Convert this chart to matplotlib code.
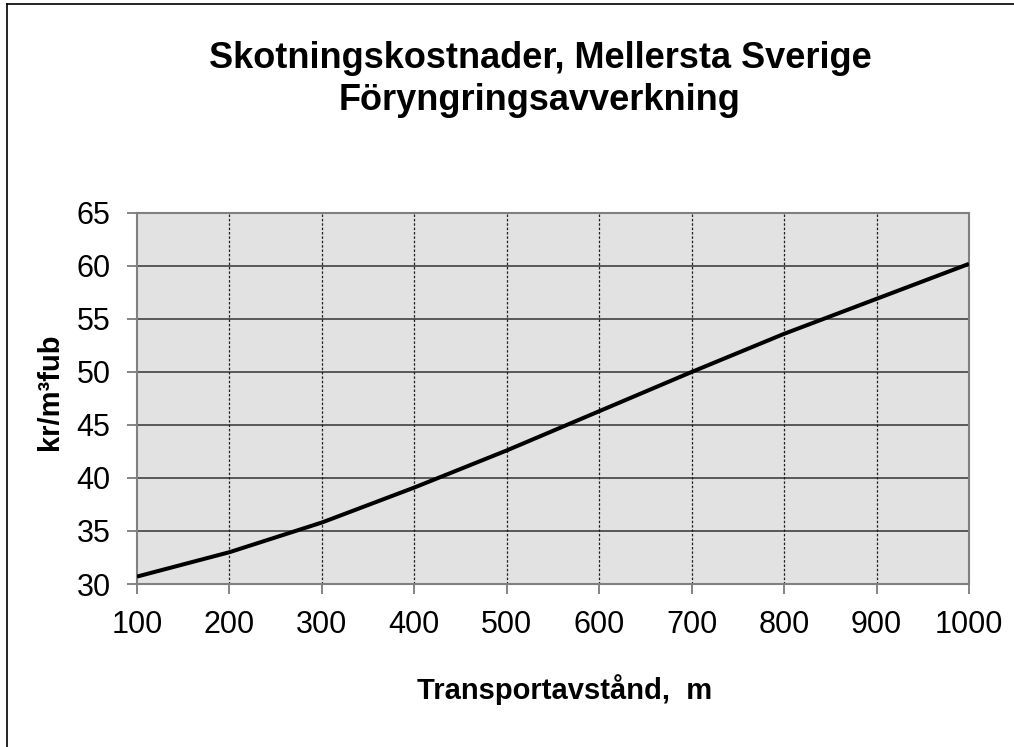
import matplotlib
matplotlib.use("Agg")
import matplotlib.pyplot as plt
from matplotlib.lines import Line2D

plt.rcParams['font.family'] = ['Liberation Sans', 'DejaVu Sans']

# data
distance = [100, 200, 300, 400, 500, 600, 700, 800, 900, 1000]
cost = [30.7, 33.0, 35.8, 39.1, 42.6, 46.3, 50.0, 53.6, 56.9, 60.2]
y_ticks = [30, 35, 40, 45, 50, 55, 60, 65]

title_1 = "Skotningskostnader, Mellersta Sverige"
title_2 = "Föryngringsavverkning"
x_label = "Transportavstånd,  m"
y_label = "kr/m³fub"

fig = plt.figure(figsize=(10.14, 7.47), dpi=100)
ax = fig.add_axes([0.1351, 0.2182, 0.9556 - 0.1351, 0.7149 - 0.2182])
ax.set_facecolor('#e2e2e2')

# grid: solid horizontal, dotted vertical
for y in y_ticks[1:-1]:
    ax.axhline(y, color='#404040', lw=1.2, zorder=1)
for x in distance[1:-1]:
    ax.axvline(x, color='#202020', lw=0.9, ls=(0, (2, 1.5)), zorder=1)

ax.plot(distance, cost, color='black', lw=2.9, zorder=3, solid_capstyle='butt')

ax.set_xlim(100, 1000)
ax.set_ylim(30, 65)
ax.set_xticks(distance)
ax.set_yticks(y_ticks)
ax.tick_params(axis='both', labelsize=22, length=7, width=1.2, color='#707070', direction='out')
ax.tick_params(axis='y', pad=12)
ax.tick_params(axis='x', pad=12)
for s in ax.spines.values():
    s.set_color('#808080')
    s.set_linewidth(1.5)

fig.text(540 / 1014, 1 - 58 / 747, title_1, ha='center', va='center', fontsize=26, fontweight='bold')
fig.text(540 / 1014, 1 - 100 / 747, title_2, ha='center', va='center', fontsize=26, fontweight='bold')
fig.text(565 / 1014, 1 - 690 / 747, x_label, ha='center', va='center', fontsize=21, fontweight='bold')
fig.text(50 / 1014, 1 - 392 / 747, y_label, ha='center', va='center', fontsize=21, fontweight='bold', rotation=90)

# outer frame (left and top edges visible)
fig.add_artist(Line2D([7 / 1014, 7 / 1014], [0, 1 - 4 / 747], transform=fig.transFigure, color='black', lw=1.2))
fig.add_artist(Line2D([7 / 1014, 1], [1 - 4 / 747, 1 - 4 / 747], transform=fig.transFigure, color='black', lw=1.2))

fig.savefig('out.png', dpi=100)
